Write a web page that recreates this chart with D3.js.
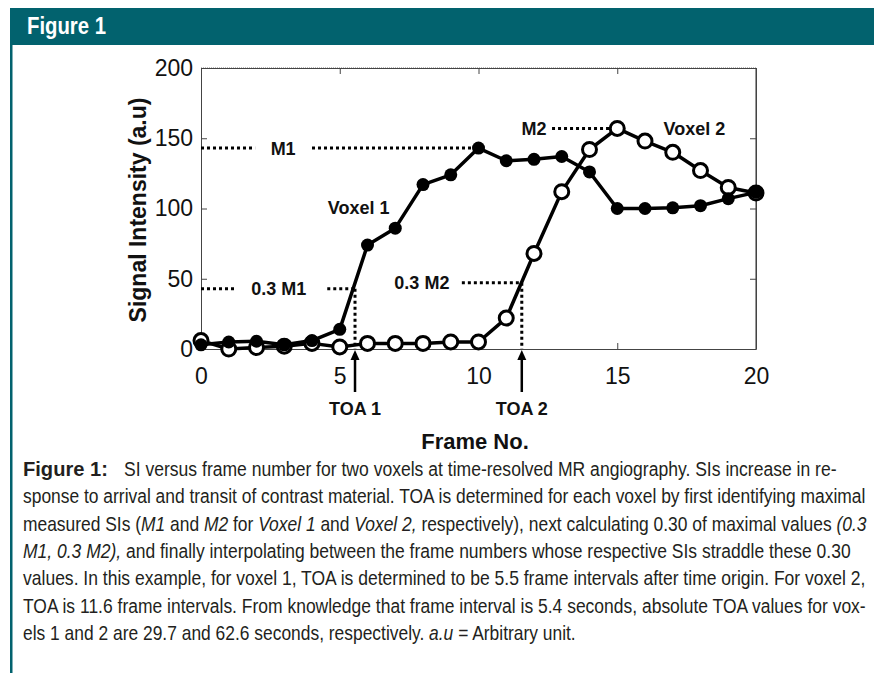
<!DOCTYPE html>
<html>
<head>
<meta charset="utf-8">
<script src="https://cdn.jsdelivr.net/npm/d3@7"></script>
<style>
  body { margin: 0; background: #fff; }
  svg text { font-family: "Liberation Sans", Arial, Helvetica, sans-serif; }
</style>
</head>
<body>
<svg id="fig" width="874" height="673"></svg>
<script>
// ---------- data ----------
var frames = d3.range(0, 21);
var voxel1 = [3, 5, 5.5, 3, 6, 14, 74, 86, 117, 124, 143, 134, 135, 137, 126, 100, 100, 100.5, 102, 107, 111.5];
var voxel2 = [6, 0, 1, 2, 4, 1.5, 4, 4, 4, 5, 5, 22, 68, 112, 142, 157, 148, 140, 127, 115, 111];
var yTicks = [0, 50, 100, 150, 200];
var xTicks = [0, 5, 10, 15, 20];

var M1 = 143, M2 = 157;
var toa1 = 5.55, toa2 = 11.56;

// dotted guides: [frameFrom, frameTo, value]
var hDots = [
  [0, 1.95, M1], [4.0, 10, M1],
  [0, 1.23, 0.3 * M1], [4.55, toa1, 0.3 * M1],
  [9.4, toa2, 0.3 * M2],
  [12.65, 15, M2]
];
var vDots = [[toa1, 0.3 * M1], [toa2, 0.3 * M2]];
// labels: [text, frame, value]
var plotLabels = [
  ["M1", 2.96, M1], ["0.3 M1", 2.8, 0.3 * M1], ["0.3 M2", 7.96, 0.3 * M2],
  ["M2", 12.0, M2], ["Voxel 1", 5.68, 100.4], ["Voxel 2", 17.78, 156.6]
];
var toaLabels = [["TOA 1", toa1], ["TOA 2", toa2]];

// caption lines: each is a list of [text, style]
var captionLines = [
  [["SI versus frame number for two voxels at time-resolved MR angiography. SIs increase in re-", ""]],
  [["sponse to arrival and transit of contrast material. TOA is determined for each voxel by first identifying maximal", ""]],
  [["measured SIs (", ""], ["M1", "i"], [" and ", ""], ["M2", "i"], [" for ", ""], ["Voxel 1", "i"], [" and ", ""], ["Voxel 2,", "i"], [" respectively), next calculating 0.30 of maximal values ", ""], ["(0.3", "i"]],
  [["M1, 0.3 M2),", "i"], [" and finally interpolating between the frame numbers whose respective SIs straddle these 0.30", ""]],
  [["values. In this example, for voxel 1, TOA is determined to be 5.5 frame intervals after time origin. For voxel 2,", ""]],
  [["TOA is 11.6 frame intervals. From knowledge that frame interval is 5.4 seconds, absolute TOA values for vox-", ""]],
  [["els 1 and 2 are 29.7 and 62.6 seconds, respectively. ", ""], ["a.u", "i"], [" = Arbitrary unit.", ""]]
];
var captionStarts = [124, 23, 23, 23, 23, 23, 23];
var captionEnds = [837, 866, 867, 851, 866, 866, 576];

// ---------- frame ----------
var svg = d3.select("#fig");
var teal = "#02626e";
svg.append("rect").attr("x", 10).attr("y", 8).attr("width", 864).attr("height", 37).attr("fill", teal);
svg.append("rect").attr("x", 10).attr("y", 8).attr("width", 2.5).attr("height", 665).attr("fill", teal);

// squeeze a text so that it runs from x0 to x1 (the caption font is condensed)
function fitText(sel, x0, x1) {
  var w = sel.node().getComputedTextLength();
  var sx = (x1 - x0) / w;
  sel.attr("x", 0).attr("transform", "translate(" + x0 + "," + sel.attr("y") + ") scale(" + sx + ",1)").attr("y", 0);
}

var hdr = svg.append("text").attr("y", 34)
  .attr("font-size", 23).attr("font-weight", "bold").attr("fill", "#fff").text("Figure 1");
fitText(hdr, 27, 106);

// ---------- chart ----------
var x = d3.scaleLinear().domain([0, 20]).range([201, 756]);
var y = d3.scaleLinear().domain([0, 200]).range([349, 68]);

var g = svg.append("g");

// box
g.append("line").attr("x1", x(0)).attr("x2", x(20)).attr("y1", y(200)).attr("y2", y(200))
  .attr("stroke", "#777").attr("stroke-dasharray", "1,1");
g.append("line").attr("x1", x(20)).attr("x2", x(20)).attr("y1", y(200)).attr("y2", y(0))
  .attr("stroke", "#333");

g.append("g").attr("transform", "translate(" + x(0) + ",0)")
  .call(d3.axisLeft(y).tickValues(yTicks).tickSizeInner(-6).tickSizeOuter(0).tickPadding(8));
g.append("g").attr("transform", "translate(0," + y(0) + ")")
  .call(d3.axisBottom(x).tickValues(xTicks).tickSizeInner(-6).tickSizeOuter(0).tickPadding(19));
g.append("g").attr("transform", "translate(" + x(20) + ",0)")
  .call(d3.axisRight(y).tickValues(yTicks).tickSizeInner(-6).tickSizeOuter(0).tickFormat(""));
g.append("g").attr("transform", "translate(0," + y(200) + ")")
  .call(d3.axisTop(x).tickValues(xTicks).tickSizeInner(-6).tickSizeOuter(0).tickFormat(""));
g.selectAll(".domain").attr("stroke", "#444");
g.selectAll(".tick line").attr("stroke", "#444");
g.selectAll(".tick text").attr("font-size", 23).attr("fill", "#111")
  .attr("font-family", "'Liberation Sans', Arial, sans-serif");

// dotted guides
g.selectAll(".hdot").data(hDots).enter().append("line")
  .attr("x1", d => x(d[0])).attr("x2", d => x(d[1]))
  .attr("y1", d => y(d[2])).attr("y2", d => y(d[2]))
  .attr("stroke", "#000").attr("stroke-width", 3).attr("stroke-dasharray", "3,3");
g.selectAll(".vdot").data(vDots).enter().append("line")
  .attr("x1", d => x(d[0])).attr("x2", d => x(d[0]))
  .attr("y1", d => y(d[1])).attr("y2", y(0))
  .attr("stroke", "#000").attr("stroke-width", 3).attr("stroke-dasharray", "3,3");

// series
var line1 = d3.line().x((d, i) => x(frames[i])).y(d => y(d));
g.append("path").datum(voxel1).attr("d", line1).attr("fill", "none")
  .attr("stroke", "#000").attr("stroke-width", 3.5).attr("stroke-linejoin", "round");
g.append("path").datum(voxel2).attr("d", line1).attr("fill", "none")
  .attr("stroke", "#000").attr("stroke-width", 3.5).attr("stroke-linejoin", "round");

g.selectAll(".v2").data(voxel2).enter().append("circle")
  .attr("cx", (d, i) => x(frames[i])).attr("cy", d => y(d)).attr("r", 7)
  .attr("fill", "#fff").attr("stroke", "#000").attr("stroke-width", 3);
g.selectAll(".v1").data(voxel1).enter().append("circle")
  .attr("cx", (d, i) => x(frames[i])).attr("cy", d => y(d)).attr("r", 6.5)
  .attr("fill", "#000");

// plot labels
g.selectAll(".lbl").data(plotLabels).enter().append("text")
  .attr("x", d => x(d[1])).attr("y", d => y(d[2])).attr("dy", "0.36em")
  .attr("text-anchor", "middle").attr("font-size", 18).attr("font-weight", "bold")
  .attr("fill", "#111").text(d => d[0]);

// TOA arrows
var arrows = g.selectAll(".toa").data(toaLabels).enter().append("g");
arrows.append("line").attr("x1", d => x(d[1])).attr("x2", d => x(d[1]))
  .attr("y1", y(0) + 8).attr("y2", y(0) + 43).attr("stroke", "#000").attr("stroke-width", 2.5);
arrows.append("path").attr("d", d => "M" + x(d[1]) + "," + (y(0) + 1) + "l-4.5,10h9z").attr("fill", "#000");
arrows.append("text").attr("x", d => x(d[1])).attr("y", y(0) + 66)
  .attr("text-anchor", "middle").attr("font-size", 18).attr("font-weight", "bold")
  .attr("fill", "#111").text(d => d[0]);

// axis titles
svg.append("text").attr("transform", "translate(146,210) rotate(-90)")
  .attr("text-anchor", "middle").attr("font-size", 23).attr("font-weight", "bold")
  .attr("fill", "#111").text("Signal Intensity (a.u)");
svg.append("text").attr("x", 475).attr("y", 449)
  .attr("text-anchor", "middle").attr("font-size", 22).attr("font-weight", "bold")
  .attr("fill", "#111").text("Frame No.");

// ---------- caption ----------
var capTop = 476, capStep = 27.3;
var figLbl = svg.append("text").attr("y", capTop)
  .attr("font-size", 21).attr("font-weight", "bold").attr("fill", "#231f20").text("Figure 1:");
fitText(figLbl, 23, 108);

captionLines.forEach(function(parts, i) {
  var t = svg.append("text").attr("y", capTop + i * capStep)
    .attr("font-size", 21).attr("fill", "#231f20");
  parts.forEach(function(p) {
    t.append("tspan").attr("font-style", p[1] === "i" ? "italic" : "normal").text(p[0]);
  });
  fitText(t, captionStarts[i], captionEnds[i]);
});
</script>
</body>
</html>
